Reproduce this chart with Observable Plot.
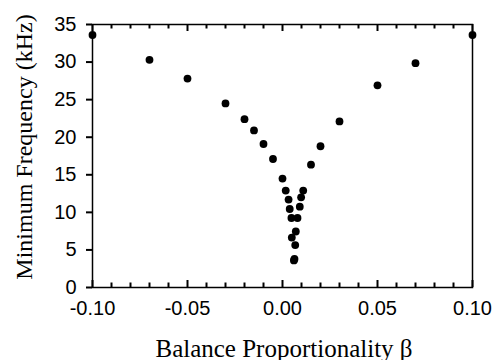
<!DOCTYPE html>
<html><head><meta charset="utf-8">
<script src="https://cdn.jsdelivr.net/npm/d3@7"></script>
<script src="https://cdn.jsdelivr.net/npm/@observablehq/plot@0.6"></script>
<style>body{margin:0;background:#fff}</style>
</head><body><div id="chart"></div>
<script>
const beta = [-0.10, -0.07, -0.05, -0.03, -0.02, -0.015, -0.01, -0.005, 0.000,
  0.0017, 0.0032, 0.0038, 0.0047, 0.0079, 0.0091, 0.0098, 0.0109,
  0.0070, 0.0049, 0.0067, 0.0063, 0.0060,
  0.015, 0.02, 0.03, 0.05, 0.07, 0.10];
const freq = [33.6, 30.3, 27.8, 24.5, 22.4, 20.9, 19.1, 17.1, 14.5,
  12.9, 11.7, 10.45, 9.25, 9.25, 10.75, 12.0, 12.9,
  7.45, 6.65, 5.65, 3.8, 3.6,
  16.35, 18.8, 22.1, 26.9, 29.85, 33.6];
const xMajorTicks = [-0.10, -0.05, 0.00, 0.05, 0.10];
const xMinorTicks = [-0.09, -0.08, -0.07, -0.06, -0.04, -0.03, -0.02, -0.01,
  0.01, 0.02, 0.03, 0.04, 0.06, 0.07, 0.08, 0.09];
const yTicks = [0, 5, 10, 15, 20, 25, 30, 35];
const xTitle = "Balance Proportionality β";
const yTitle = "Minimum Frequency (kHz)";

const points = beta.map((b, i) => ({beta: b, freq: freq[i]}));
const W = 498, H = 360, mt = 24, mb = 73, ml = 92, mr = 26;
const innerH = H - mt - mb;
const yMin = 0, yMax = 35;
const pxToY = (yMax - yMin) / innerH;   // tick lengths (px) in y units
const majorLen = 7 * pxToY, minorLen = 4.5 * pxToY;
const sans = "Liberation Sans, Arial, sans-serif";
const serif = "Liberation Serif, Times New Roman, serif";
const tickStyle = {stroke: "black", strokeWidth: 2};

const chart = Plot.plot({
  width: W, height: H, marginLeft: ml, marginRight: mr, marginTop: mt, marginBottom: mb,
  style: {background: "white", color: "black"},
  x: {domain: [-0.10, 0.10]},
  y: {domain: [yMin, yMax]},
  marks: [
    Plot.ruleX(xMajorTicks, {x: d => d, y1: yMin, y2: yMin + majorLen, ...tickStyle}),
    Plot.ruleX(xMinorTicks, {x: d => d, y1: yMin, y2: yMin + minorLen, ...tickStyle}),
    Plot.ruleX(xMajorTicks, {x: d => d, y1: yMax, y2: yMax - majorLen, ...tickStyle}),
    Plot.ruleX(xMinorTicks, {x: d => d, y1: yMax, y2: yMax - minorLen, ...tickStyle}),
    Plot.axisX(xMajorTicks, {tickSize: 0, tickPadding: 13, tickFormat: d => d.toFixed(2),
      fontSize: 20, fontFamily: sans, label: null}),
    Plot.axisY(yTicks, {tickSize: 6, tickPadding: 10, strokeWidth: 2,
      fontSize: 20, fontFamily: sans, label: null}),
    Plot.frame({stroke: "black", strokeWidth: 1.5}),
    Plot.dot(points, {x: "beta", y: "freq", r: 3.9, fill: "black"}),
    Plot.text([xTitle], {frameAnchor: "bottom", dx: 1.5, dy: 61, lineAnchor: "middle",
      textAnchor: "middle", fontSize: 25, fontFamily: serif}),
    Plot.text([yTitle], {frameAnchor: "left", rotate: -90, dx: -68, dy: -9, lineAnchor: "middle",
      textAnchor: "middle", fontSize: 24, fontFamily: serif})
  ]
});
document.getElementById("chart").append(chart);
</script>
</body></html>
